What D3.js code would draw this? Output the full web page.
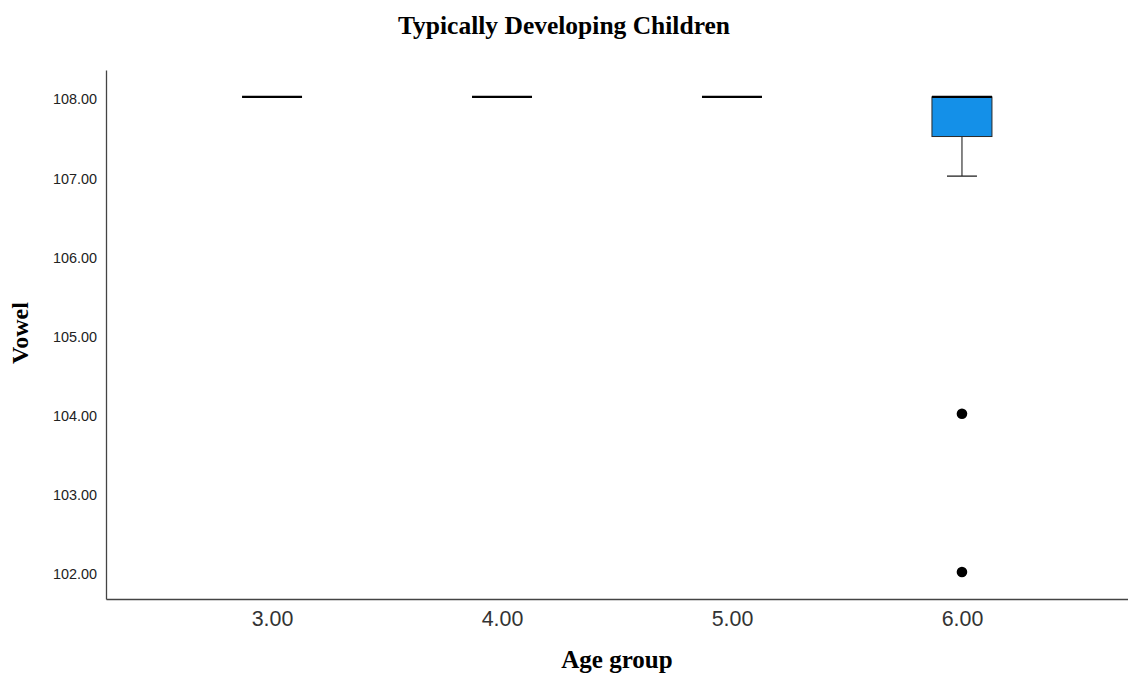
<!DOCTYPE html>
<html>
<head>
<meta charset="utf-8">
<script src="https://cdn.jsdelivr.net/npm/d3@7"></script>
<style>
  html, body { margin: 0; padding: 0; background: #fff; }
  svg { display: block; }
</style>
</head>
<body>
<svg id="chart" width="1128" height="675"></svg>
<script>
// Age groups and five-number summaries of the Vowel score
const groups = ["3.00", "4.00", "5.00", "6.00"];
const q1 = [108, 108, 108, 107.5];
const median = [108, 108, 108, 108];
const q3 = [108, 108, 108, 108];
const whiskerLow = [108, 108, 108, 107];
const whiskerHigh = [108, 108, 108, 108];
// Outlying cases: [group, value]
const outliers = [["6.00", 104], ["6.00", 102]];
const yTicks = [102, 103, 104, 105, 106, 107, 108];

const svg = d3.select("#chart");
const plotLeft = 106, plotRight = 1128, plotTop = 70, plotBottom = 599;

const x = d3.scalePoint().domain(groups).range([plotLeft, plotRight]).padding(0.722);
const y = d3.scaleLinear().domain([101.66, 108.34]).range([plotBottom, plotTop]);

const boxW = 60, capW = 30;
const serif = "'Liberation Serif', 'Times New Roman', serif";
const sans = "Arial, 'Liberation Sans', sans-serif";

// Title
svg.append("text")
  .attr("x", 564).attr("y", 34)
  .attr("text-anchor", "middle")
  .style("font-family", serif)
  .style("font-weight", "bold").style("font-size", "25.5px")
  .text("Typically Developing Children");

// Y axis
const yAxis = svg.append("g")
  .attr("transform", `translate(${plotLeft},0)`)
  .call(d3.axisLeft(y).tickValues(yTicks).tickFormat(d3.format(".2f")).tickSize(0).tickPadding(9));
yAxis.select(".domain").attr("stroke", "#444").attr("stroke-width", 1.3);
yAxis.selectAll("text")
  .attr("dy", "0.48em")
  .style("font-family", sans)
  .style("font-size", "14.4px").attr("fill", "#222");

// X axis
const xAxis = svg.append("g")
  .attr("transform", `translate(0,${plotBottom})`)
  .call(d3.axisBottom(x).tickSize(0).tickPadding(12));
xAxis.select(".domain").attr("stroke", "#444").attr("stroke-width", 1.3);
xAxis.selectAll("text")
  .style("font-family", sans)
  .style("font-size", "21.4px").attr("fill", "#333");

// Axis titles
svg.append("text")
  .attr("x", 617).attr("y", 668)
  .attr("text-anchor", "middle")
  .style("font-family", serif)
  .style("font-weight", "bold").style("font-size", "25px")
  .text("Age group");

svg.append("text")
  .attr("transform", "translate(28,333) rotate(-90)")
  .attr("text-anchor", "middle")
  .style("font-family", serif)
  .style("font-weight", "bold").style("font-size", "24px")
  .text("Vowel");

// Boxes
const data = groups.map((g, i) => ({
  g, q1: q1[i], med: median[i], q3: q3[i], lo: whiskerLow[i], hi: whiskerHigh[i]
}));

const box = svg.append("g").selectAll("g").data(data).join("g");

// Whiskers (only where they extend beyond the box)
box.filter(d => d.lo < d.q1).append("line")
  .attr("x1", d => x(d.g)).attr("x2", d => x(d.g))
  .attr("y1", d => y(d.q1)).attr("y2", d => y(d.lo))
  .attr("stroke", "#444").attr("stroke-width", 1.3);
box.filter(d => d.lo < d.q1).append("line")
  .attr("x1", d => x(d.g) - capW / 2).attr("x2", d => x(d.g) + capW / 2)
  .attr("y1", d => y(d.lo)).attr("y2", d => y(d.lo))
  .attr("stroke", "#222").attr("stroke-width", 1.3);
box.filter(d => d.hi > d.q3).append("line")
  .attr("x1", d => x(d.g)).attr("x2", d => x(d.g))
  .attr("y1", d => y(d.q3)).attr("y2", d => y(d.hi))
  .attr("stroke", "#444").attr("stroke-width", 1.3);

// Box bodies
box.filter(d => d.q3 > d.q1).append("rect")
  .attr("x", d => x(d.g) - boxW / 2)
  .attr("y", d => y(d.q3))
  .attr("width", boxW)
  .attr("height", d => y(d.q1) - y(d.q3))
  .attr("fill", "#1490e8")
  .attr("stroke", "#2a2a2a").attr("stroke-width", 1);

// Medians
box.append("line")
  .attr("x1", d => x(d.g) - boxW / 2).attr("x2", d => x(d.g) + boxW / 2)
  .attr("y1", d => y(d.med)).attr("y2", d => y(d.med))
  .attr("stroke", "#000").attr("stroke-width", 2.2);

// Outliers
svg.append("g").selectAll("circle").data(outliers).join("circle")
  .attr("cx", d => x(d[0]))
  .attr("cy", d => y(d[1]))
  .attr("r", 5.3)
  .attr("fill", "#000");
</script>
</body>
</html>
